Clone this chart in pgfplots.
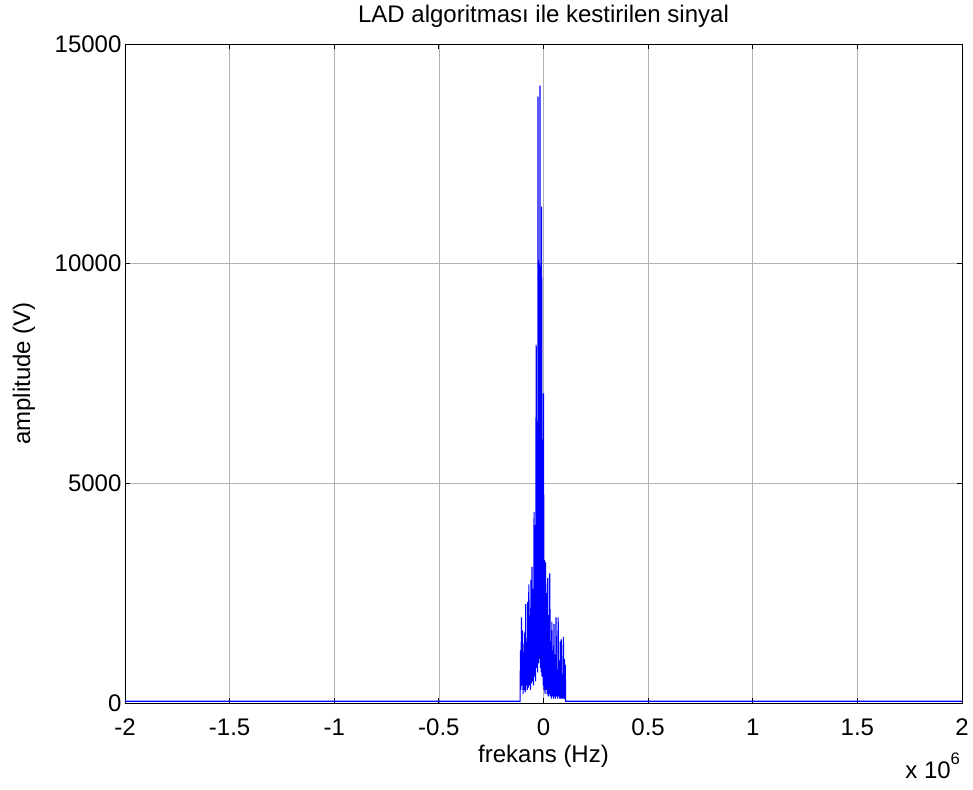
\documentclass[border=0pt]{standalone}
\usepackage{pgfplots}
\pgfplotsset{compat=1.18}
\usepackage{fontspec}
\setmainfont{Liberation Sans}
\begin{document}
\begin{tikzpicture}
\path[use as bounding box] (-93.75pt,-64.5pt) rectangle (636pt,527.25pt);
\begin{axis}[
  scale only axis, width=627.75pt, height=494.25pt,
  xmin=-2, xmax=2, ymin=0, ymax=15000,
  xtick={-2,-1.5,-1,-0.5,0,0.5,1,1.5,2},
  ytick={0,5000,10000,15000},
  xticklabels={-2,-1.5,-1,-0.5,0,0.5,1,1.5,2},
  yticklabels={0,5000,10000,15000},
  scaled ticks=false,
  tick align=inside, xtick pos=both, ytick pos=both,
  major tick length=4pt,
  tick style={black, line width=0.6pt},
  grid=major, grid style={gray!60, line width=0.4pt},
  axis line style={black, line width=0.7pt},
  every tick label/.append style={font=\fontsize{18}{21}\selectfont},
  xticklabel style={anchor=north, inner sep=0pt},
  xticklabel shift=11.5pt,
  yticklabel style={anchor=east, inner sep=0pt, xshift=-2.5pt},
  title={LAD algoritması ile kestirilen sinyal},
  title style={at={(0.5,1)}, anchor=base, yshift=10pt, font=\fontsize{18}{21}\selectfont},
  xlabel={frekans (Hz)},
  xlabel style={at={(0.5,0)}, anchor=base, yshift=-44.25pt, font=\fontsize{18}{21}\selectfont},
  ylabel={amplitude (V)},
  ylabel style={at={(-0.1135,0.5)}, anchor=base, font=\fontsize{18}{21}\selectfont},
  clip mode=individual,
]
\addplot[blue, line width=0.85pt] coordinates {
(-2,40) (-0.112,40)
(-0.110,1200) (-0.108,300)
(-0.105,1950) (-0.1025,400)
(-0.100,1650) (-0.0975,200)
(-0.095,1150) (-0.0925,300)
(-0.090,1600) (-0.0875,250)
(-0.085,2250) (-0.0825,400)
(-0.080,1400) (-0.0775,300)
(-0.075,2300) (-0.0725,350)
(-0.070,2700) (-0.0675,400)
(-0.065,2000) (-0.0625,300)
(-0.060,2800) (-0.0575,450)
(-0.055,3100) (-0.0525,500)
(-0.050,2600) (-0.0475,400)
(-0.045,4350) (-0.0425,600)
(-0.040,4050) (-0.0375,500)
(-0.035,8150) (-0.0325,800)
(-0.030,6400) (-0.028,700)
(-0.026,13800) (-0.024,900)
(-0.021,8000) (-0.019,1000)
(-0.017,14050) (-0.015,800)
(-0.013,9000) (-0.011,700)
(-0.009,11300) (-0.007,600)
(-0.004,6000) (-0.002,400)
(0.000,7050) (0.0025,300)
(0.005,3250) (0.0075,200)
(0.010,3200) (0.0125,300)
(0.015,2500) (0.0175,200)
(0.020,2850) (0.0225,150)
(0.025,2000) (0.0275,200)
(0.030,2950) (0.0325,150)
(0.035,1400) (0.0375,100)
(0.040,1850) (0.0425,150)
(0.045,1200) (0.0475,100)
(0.050,1800) (0.0525,150)
(0.055,900) (0.0575,100)
(0.060,1950) (0.0625,150)
(0.065,700) (0.0675,100)
(0.070,1950) (0.0725,150)
(0.075,800) (0.0775,100)
(0.080,1400) (0.0825,100)
(0.085,1450) (0.0875,100)
(0.090,600) (0.0925,100)
(0.095,1500) (0.0975,100)
(0.100,1000) (0.1025,80)
(0.104,870) (0.106,40)
(2,40)
};
\node[anchor=base west, font=\fontsize{18}{21}\selectfont, inner sep=0pt] at (axis description cs:0.932,-0.114) {x 10\raisebox{0.55em}{\fontsize{12.5}{14}\selectfont 6}};
\end{axis}
\end{tikzpicture}
\end{document}
